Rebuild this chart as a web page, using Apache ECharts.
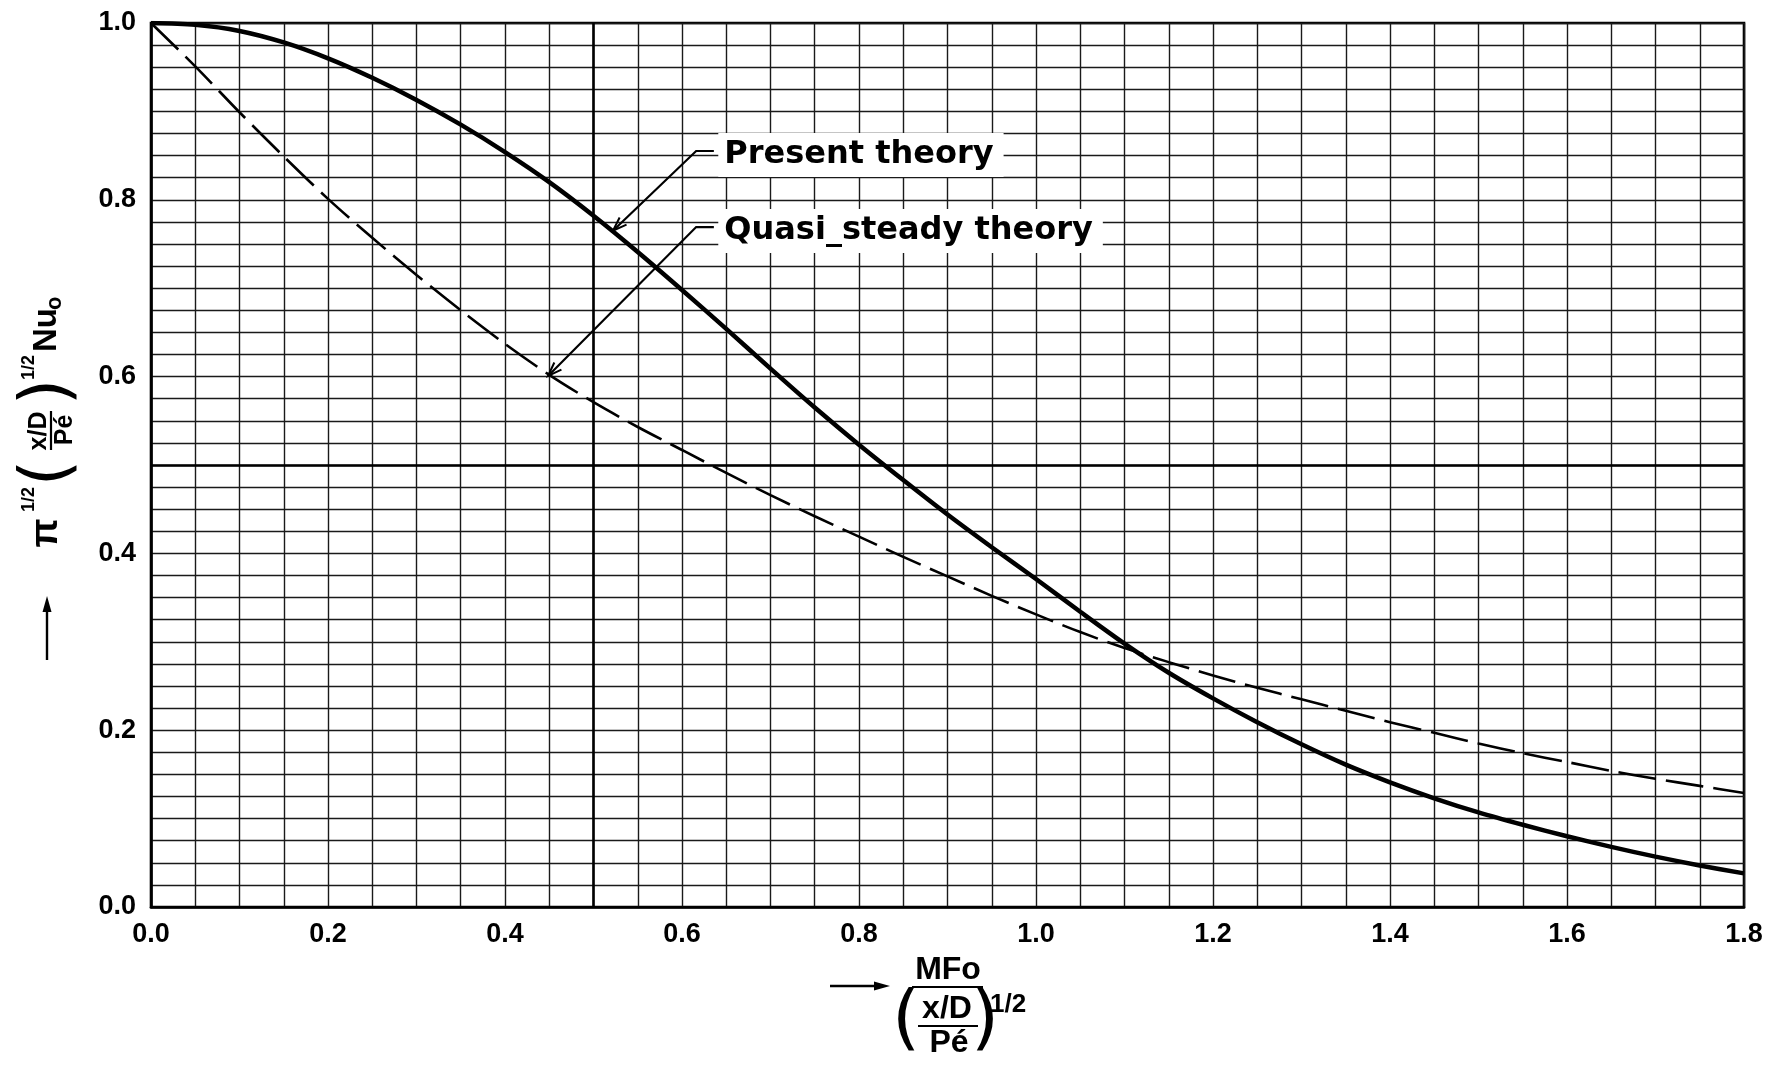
<!DOCTYPE html>
<html>
<head>
<meta charset="utf-8">
<script src="https://cdn.jsdelivr.net/npm/echarts@6/dist/echarts.min.js"></script>
<style>
  html, body { margin: 0; padding: 0; background: #fff; }
  #main { width: 1782px; height: 1065px; }
</style>
</head>
<body>
<div id="main"></div>
<script>
// abscissa: MFo / (x/D / Pe)^(1/2)
const xValues = [0, 0.05, 0.1, 0.15, 0.2, 0.25, 0.3, 0.35, 0.4, 0.45, 0.5, 0.55, 0.6, 0.65, 0.7, 0.75, 0.8, 0.85, 0.9,
  0.95, 1.0, 1.05, 1.1, 1.15, 1.2, 1.25, 1.3, 1.35, 1.4, 1.45, 1.5, 1.55, 1.6, 1.65, 1.7, 1.75, 1.8];
// solid curve
const presentTheory = [1.0, 0.998, 0.991, 0.978, 0.960, 0.938, 0.913, 0.885, 0.854, 0.820, 0.782, 0.741, 0.698, 0.654,
  0.609, 0.565, 0.523, 0.483, 0.444, 0.407, 0.371, 0.334, 0.298, 0.265, 0.236, 0.209, 0.184, 0.161, 0.141, 0.123,
  0.107, 0.093, 0.080, 0.068, 0.057, 0.047, 0.038];
// dashed curve
const quasiSteadyTheory = [1.0, 0.951, 0.899, 0.849, 0.801, 0.757, 0.715, 0.675, 0.637, 0.602, 0.571, 0.543, 0.517,
  0.491, 0.466, 0.442, 0.419, 0.396, 0.374, 0.352, 0.331, 0.311, 0.293, 0.277, 0.262, 0.248, 0.235, 0.222, 0.209,
  0.197, 0.185, 0.174, 0.164, 0.154, 0.145, 0.137, 0.129];
const seriesNames = ['Present theory', 'Quasi_steady theory'];

const chart = echarts.init(document.getElementById('main'));

// only every 0.2 gets a number, the other grid lines stay unlabeled
function majorLabel(v) {
  const k = v / 0.2;
  return Math.abs(k - Math.round(k)) < 1e-6 ? v.toFixed(1) : '';
}

const gridLine = { color: '#1a1a1a', width: 1.4 };
const tickFont = { color: '#000', fontFamily: 'Liberation Sans', fontWeight: 'bold', fontSize: 27 };

const option = {
  backgroundColor: '#fff',
  animation: false,
  grid: {
    left: 151, right: 38, top: 23, bottom: 158,
    show: true, borderColor: '#000', borderWidth: 2.6
  },
  xAxis: {
    type: 'value', min: 0, max: 1.8, interval: 0.05,
    axisLine: { show: true, lineStyle: { color: '#000', width: 2.6 } },
    axisTick: { show: false },
    axisLabel: Object.assign({ margin: 14, formatter: majorLabel }, tickFont),
    splitLine: { show: true, lineStyle: gridLine }
  },
  yAxis: {
    type: 'value', min: 0, max: 1.0, interval: 0.025,
    axisLine: { show: true, lineStyle: { color: '#000', width: 2.6 } },
    axisTick: { show: false },
    axisLabel: Object.assign({ margin: 15, formatter: majorLabel }, tickFont),
    splitLine: { show: true, lineStyle: gridLine }
  },
  series: [{
    name: seriesNames[0],
    type: 'line',
    smooth: 0.3,
    showSymbol: false,
    data: xValues.map((x, i) => [x, presentTheory[i]]),
    lineStyle: { color: '#000', width: 4.5 },
    z: 5,
    // heavier rulings at 0.5
    markLine: {
      silent: true,
      symbol: 'none',
      label: { show: false },
      lineStyle: { color: '#000', width: 2.6, type: 'solid' },
      data: [{ xAxis: 0.5 }, { yAxis: 0.5 }],
      z: 3
    }
  }, {
    name: seriesNames[1],
    type: 'line',
    smooth: 0.3,
    showSymbol: false,
    data: xValues.map((x, i) => [x, quasiSteadyTheory[i]]),
    lineStyle: { color: '#000', width: 2.6, type: [38, 10] },
    z: 5
  }]
};
chart.setOption(option);

// ---- annotations ----
const px = (x, y) => chart.convertToPixel({ gridIndex: 0 }, [x, y]);
const labelFont = 'bold 32px "DejaVu Sans"';
const mathFont = (s) => 'bold ' + s + 'px "Liberation Sans"';

function openArrow(tip, from, len, half) {
  const dx = tip[0] - from[0], dy = tip[1] - from[1];
  const d = Math.sqrt(dx * dx + dy * dy);
  const ux = dx / d, uy = dy / d;
  const bx = tip[0] - ux * len, by = tip[1] - uy * len;
  return [[bx - uy * half, by + ux * half], tip, [bx + uy * half, by - ux * half]];
}

function callout(text, start, tip) {
  const s = px(start[0], start[1]);
  const t = px(tip[0], tip[1]);
  const tickEnd = px(0.636, start[1]);
  const textPos = px(0.641, start[1]);
  return [
    { type: 'polyline', z: 10, shape: { points: [tickEnd, s, t] }, style: { stroke: '#000', lineWidth: 2.2, fill: null } },
    { type: 'polyline', z: 10, shape: { points: openArrow(t, s, 14, 5) }, style: { stroke: '#000', lineWidth: 2, fill: null } },
    {
      type: 'text', z: 9, x: textPos[0], y: textPos[1] + 4,
      style: {
        text: text, font: labelFont, fill: '#000', align: 'left', verticalAlign: 'middle',
        backgroundColor: '#fff', padding: [4, 10, 8, 6]
      }
    }
  ];
}

function txt(text, x, y, size, align, font) {
  return {
    type: 'text', x: x, y: y, z: 10,
    style: { text: text, font: font || mathFont(size), fill: '#000', align: align || 'center', verticalAlign: 'middle' }
  };
}
function bar(x1, x2, y) {
  return { type: 'line', z: 10, shape: { x1: x1, y1: y, x2: x2, y2: y }, style: { stroke: '#000', lineWidth: 2.2 } };
}
function arrow(x1, x2, y) {
  return [
    { type: 'line', z: 10, shape: { x1: x1, y1: y, x2: x2 - 12, y2: y }, style: { stroke: '#000', lineWidth: 2.4 } },
    { type: 'polygon', z: 10, shape: { points: [[x2, y], [x2 - 16, y - 4.5], [x2 - 16, y + 4.5]] }, style: { fill: '#000' } }
  ];
}

// x-axis title: MFo over (x/D / Pe)^1/2
const xTitle = [].concat(
  arrow(830, 890, 986),
  [
    txt('MFo', 948, 970, 32),
    bar(912, 983, 987),
    txt('(', 906, 1022, 0, 'center', '72px "DejaVu Sans"'),
    txt('x/D', 947, 1009, 32),
    bar(918, 978, 1026),
    txt('Pé', 949, 1043, 32),
    txt(')', 985, 1022, 0, 'center', '72px "DejaVu Sans"'),
    txt('1/2', 990, 1005, 26, 'left')
  ]
);

// y-axis title, laid out horizontally then turned to read upwards
const yTitle = {
  type: 'group', x: 47, y: 630, rotation: Math.PI / 2,
  children: [].concat(
    arrow(-30, 34, 0),
    [
      txt('π', 97, 0, 38),
      txt('1/2', 118, -18, 18, 'left'),
      txt('(', 157, 3, 0, 'center', '68px "DejaVu Sans"'),
      txt('x/D', 199, -8, 25),
      bar(180, 219, 4),
      txt('Pé', 200, 18, 25),
      txt(')', 238, 3, 0, 'center', '68px "DejaVu Sans"'),
      txt('1/2', 250, -18, 18, 'left'),
      txt('Nu', 278, 0, 33, 'left'),
      txt('o', 320, 8, 22, 'left')
    ]
  )
};

chart.setOption({
  graphic: [].concat(
    callout(seriesNames[0], [0.616, 0.8552], [0.522, 0.765]),
    callout(seriesNames[1], [0.616, 0.7692], [0.4486, 0.6007]),
    xTitle,
    [yTitle]
  )
});
</script>
</body>
</html>
